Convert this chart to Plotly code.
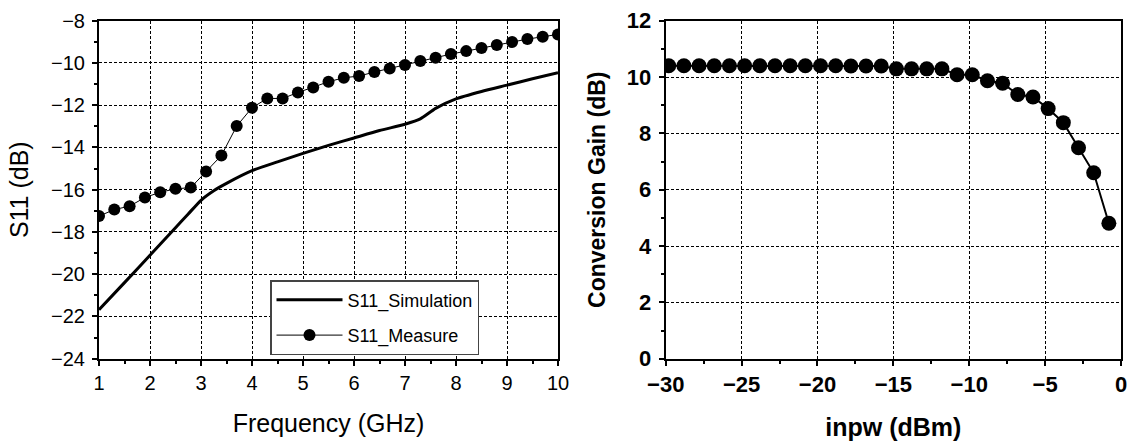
import plotly.graph_objects as go

# ---- Left panel data: S11 vs frequency ----
freq_meas = [1.0, 1.3, 1.6, 1.9, 2.2, 2.5, 2.8, 3.1, 3.4, 3.7, 4.0, 4.3, 4.6, 4.9, 5.2, 5.5,
             5.8, 6.1, 6.4, 6.7, 7.0, 7.3, 7.6, 7.9, 8.2, 8.5, 8.8, 9.1, 9.4, 9.7, 10.0]
s11_meas = [-17.25, -16.94, -16.78, -16.37, -16.12, -15.96, -15.90, -15.14, -14.38, -12.99,
            -12.12, -11.68, -11.68, -11.40, -11.16, -10.89, -10.70, -10.62, -10.43, -10.26,
            -10.10, -9.91, -9.75, -9.58, -9.44, -9.29, -9.15, -9.01, -8.87, -8.76, -8.65]

freq_sim = [1.0, 1.5, 2.0, 2.5, 2.75, 3.0, 3.25, 3.5, 4.0, 4.5, 5.0, 5.5, 6.0, 6.5, 7.0,
            7.3, 7.6, 8.0, 8.5, 9.0, 9.5, 10.0]
s11_sim = [-21.68, -20.4, -19.1, -17.8, -17.15, -16.5, -16.05, -15.7, -15.1, -14.68, -14.28,
           -13.9, -13.55, -13.2, -12.9, -12.65, -12.15, -11.7, -11.35, -11.05, -10.75, -10.46]

# ---- Right panel data: conversion gain vs input power ----
inpw = [-29.8, -28.8, -27.8, -26.8, -25.8, -24.8, -23.8, -22.8, -21.8, -20.8, -19.8, -18.8,
        -17.8, -16.8, -15.8, -14.8, -13.8, -12.8, -11.8, -10.8, -9.8, -8.8, -7.8, -6.8,
        -5.8, -4.8, -3.8, -2.8, -1.8, -0.8]
gain = [10.4, 10.4, 10.4, 10.4, 10.4, 10.4, 10.4, 10.4, 10.4, 10.4, 10.4, 10.4,
        10.39, 10.39, 10.39, 10.29, 10.29, 10.29, 10.29, 10.08, 10.08, 9.87, 9.78, 9.38,
        9.29, 8.88, 8.38, 7.49, 6.60, 4.81]

FONT = "Arial, Liberation Sans, sans-serif"
W, H = 1137, 448

fig = go.Figure()
fig.add_trace(go.Scatter(x=freq_sim, y=s11_sim, mode="lines", name="S11_Simulation",
                         line=dict(color="black", width=3, shape="spline", smoothing=0.6),
                         xaxis="x", yaxis="y", legendgroup="a"))
fig.add_trace(go.Scatter(x=freq_meas, y=s11_meas, mode="lines+markers", name="S11_Measure",
                         line=dict(color="black", width=1),
                         marker=dict(color="black", size=12),
                         xaxis="x", yaxis="y", legendgroup="b"))
fig.add_trace(go.Scatter(x=inpw, y=gain, mode="lines+markers", showlegend=False,
                         line=dict(color="black", width=2),
                         marker=dict(color="black", size=15),
                         xaxis="x2", yaxis="y2"))

ydom = [(H - 358.7) / H, (H - 20.7) / H]

common = dict(showline=True, linecolor="black", linewidth=2, mirror=True,
              ticks="outside", ticklen=5, tickwidth=1.5, tickcolor="black",
              showgrid=True, gridcolor="black", gridwidth=1, griddash="3px,2px",
              zeroline=False, automargin=False)
minor = dict(ticks="outside", ticklen=3, tickwidth=1.5, tickcolor="black", showgrid=False)

fig.update_layout(
    width=W, height=H, autosize=False,
    margin=dict(l=0, r=0, t=0, b=0),
    paper_bgcolor="white", plot_bgcolor="white",
    font=dict(family=FONT, color="black", size=20),
    showlegend=True,
    legend=dict(x=270 / W, y=(H - 280) / H, xanchor="left", yanchor="top",
                bgcolor="white", bordercolor="#444", borderwidth=1.5,
                font=dict(family=FONT, size=18, color="black"),
                itemwidth=66, tracegroupgap=9, traceorder="grouped"),
    xaxis=dict(domain=[99 / W, 558 / W], range=[1, 10], dtick=1,
               title=dict(text="Frequency (GHz)", font=dict(size=25), standoff=22),
               tickfont=dict(size=20), minor=dict(dtick=0.5, **minor), anchor="y", **common),
    yaxis=dict(domain=ydom, range=[-24, -8], dtick=2, ticklabelstandoff=3,
               title=dict(text="S11 (dB)", font=dict(size=25), standoff=15),
               tickfont=dict(size=20), minor=dict(dtick=1, **minor), anchor="x", **common),
    xaxis2=dict(domain=[665.7 / W, 1121 / W], range=[-30, 0], dtick=5,
                title=dict(text="<b>inpw (dBm)</b>", font=dict(size=25), standoff=22),
                tickfont=dict(size=22, weight="bold"), minor=dict(dtick=2.5, **minor),
                anchor="y2", **common),
    yaxis2=dict(domain=ydom, range=[0, 12], dtick=2, ticklabelstandoff=3,
                title=dict(text="<b>Conversion Gain (dB)</b>", font=dict(size=23), standoff=15),
                tickfont=dict(size=22, weight="bold"), minor=dict(dtick=1, **minor),
                anchor="x2", **common),
)

fig.write_html("out.html")
